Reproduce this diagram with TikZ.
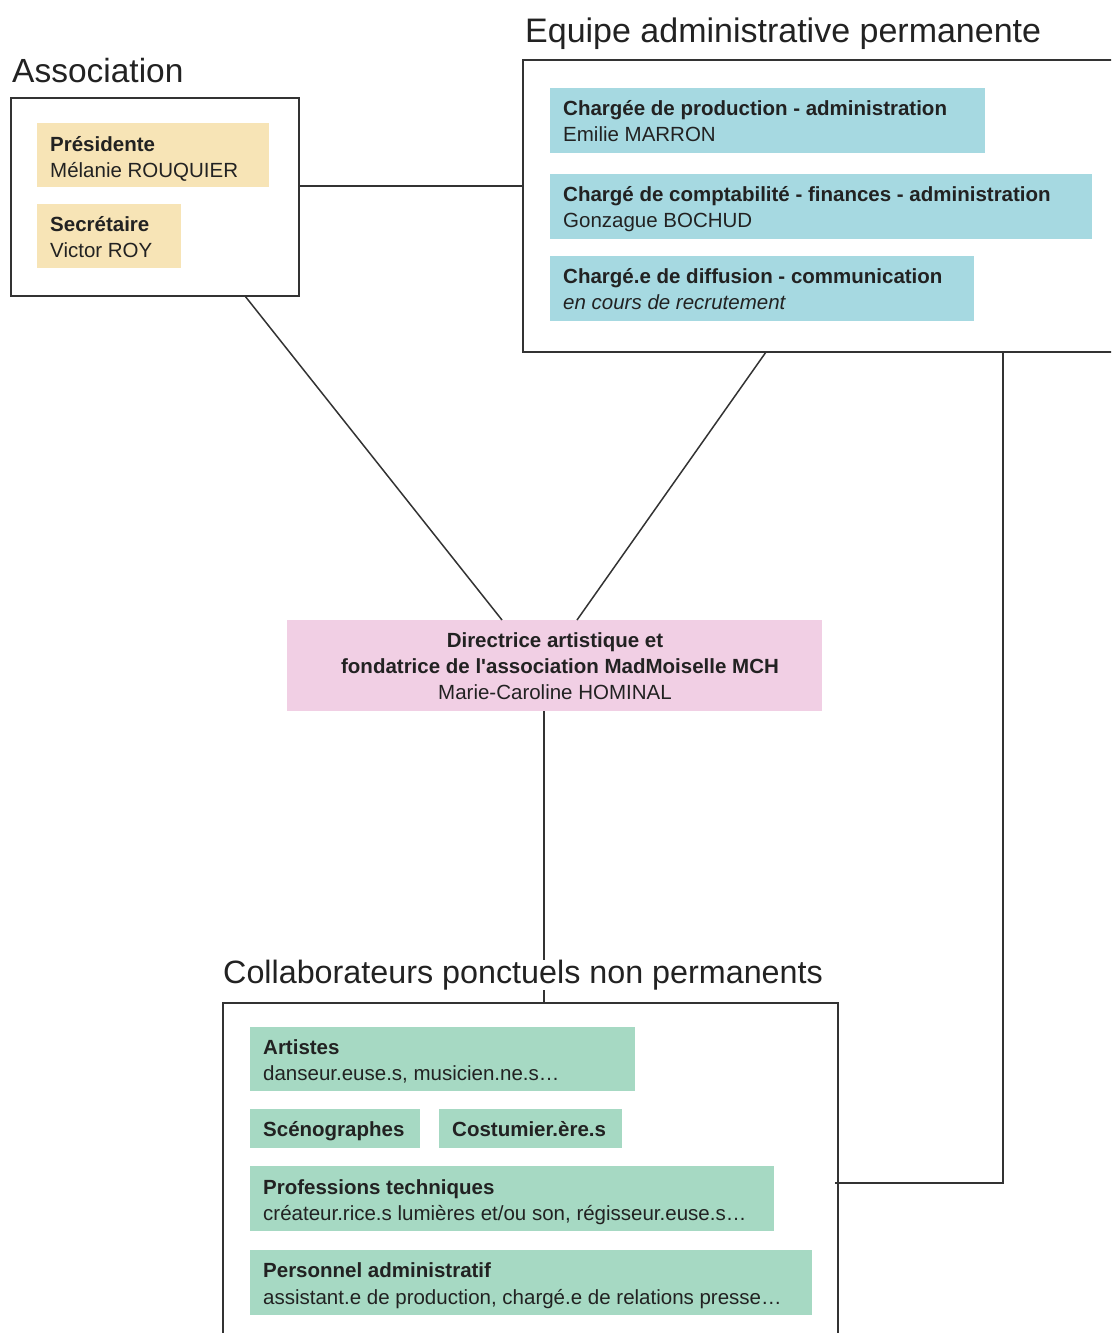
\documentclass[tikz,border=0pt]{standalone}
\usepackage{fontspec}
\setmainfont{Liberation Sans}
\usetikzlibrary{calc}
\definecolor{beige}{HTML}{F7E4B6}
\definecolor{bleu}{HTML}{A6D9E1}
\definecolor{rose}{HTML}{F1CFE4}
\definecolor{vert}{HTML}{A6D9C3}
\definecolor{trait}{HTML}{333333}
\definecolor{textc}{HTML}{222222}
\begin{document}
\begin{tikzpicture}[x=1pt,y=-1pt,
  frame/.style={draw=trait, line width=1.6pt, anchor=north west, inner sep=0pt, outer sep=0pt},
  card/.style={anchor=north west, inner sep=0pt, outer sep=0pt},
  txt/.style={anchor=base west, inner sep=0pt, font=\fontsize{20.5}{24}\selectfont, text=textc},
  btxt/.style={txt, font=\fontsize{20.5}{24}\selectfont\bfseries},
  ttl/.style={anchor=base west, inner sep=0pt, font=\fontsize{33.5}{40}\selectfont, text=textc},
  link/.style={draw=trait, line width=1.5pt}]
\useasboundingbox (0,0) rectangle (1111,1333);
\clip (0,0) rectangle (1111,1333);

% frames
\node[frame, minimum width=288pt, minimum height=198pt] (assoc) at (11,98) {};
\node[frame, minimum width=600pt, minimum height=292pt] (equipe) at (523,60) {};
\node[frame, minimum width=615pt, minimum height=360pt] (collab) at (223,1003) {};

% connectors
\draw[link] ($(assoc.north east)+(0,88)$) -- ($(equipe.north west)+(0,126)$);
\node[card, fill=rose, minimum width=535pt, minimum height=91pt] (dir) at (287,620) {};
\draw[link] ($(assoc.south west)+(234,0)$) -- ($(dir.north west)+(215,0)$);
\draw[link] ($(equipe.south west)+(243,0)$) -- ($(dir.north west)+(290,0)$);
\draw[link] ($(equipe.south west)+(480,0)$) |- ($(collab.north east)+(-3,180)$);
\draw[link] ($(dir.south west)+(257,0)$) -- ($(collab.north west)+(321,0)$);

% titles
\node[ttl] (tassoc) at (12,82) {Association};
\node[ttl, font=\fontsize{34}{40}\selectfont] (tequipe) at (525,42) {Equipe administrative permanente};
\node[ttl, font=\fontsize{32.3}{40}\selectfont, fill=white, inner ysep=0pt] (tcollab) at (223,983) {Collaborateurs ponctuels non permanents};

% association cards
\node[card, fill=beige, minimum width=232pt, minimum height=64pt] (pres) at (37,123) {};
\node[btxt] (pres1) at (50,151) {Présidente};
\node[txt] (pres2) at (50,177) {Mélanie ROUQUIER};
\node[card, fill=beige, minimum width=144pt, minimum height=64pt] (secr) at (37,204) {};
\node[btxt] (secr1) at (50,231) {Secrétaire};
\node[txt] (secr2) at (50,257) {Victor ROY};

% equipe cards
\node[card, fill=bleu, minimum width=435pt, minimum height=65pt] (e1) at (550,88) {};
\node[btxt] (e1a) at (563,115) {Chargée de production - administration};
\node[txt] (e1b) at (563,141) {Emilie MARRON};
\node[card, fill=bleu, minimum width=542pt, minimum height=65pt] (e2) at (550,174) {};
\node[btxt] (e2a) at (563,201) {Chargé de comptabilité - finances - administration};
\node[txt] (e2b) at (563,227) {Gonzague BOCHUD};
\node[card, fill=bleu, minimum width=424pt, minimum height=65pt] (e3) at (550,256) {};
\node[btxt] (e3a) at (563,283) {Chargé.e de diffusion - communication};
\node[txt, font=\fontsize{20.5}{24}\selectfont\itshape] (e3b) at (563,309) {en cours de recrutement};

% director text
\node[btxt, anchor=base] (d1) at (555,647) {Directrice artistique et};
\node[btxt, anchor=base] (d2) at (560,673) {fondatrice de l\textquotesingle association MadMoiselle MCH};
\node[txt, anchor=base] (d3) at (555,699) {Marie-Caroline HOMINAL};

% collab cards
\node[card, fill=vert, minimum width=385pt, minimum height=64pt] (c1) at (250,1027) {};
\node[btxt] (c1a) at (263,1054) {Artistes};
\node[txt] (c1b) at (263,1080) {danseur.euse.s, musicien.ne.s…};
\node[card, fill=vert, minimum width=170pt, minimum height=39pt] (c2) at (250,1109) {};
\node[btxt] (c2a) at (263,1136) {Scénographes};
\node[card, fill=vert, minimum width=183pt, minimum height=39pt] (c3) at (439,1109) {};
\node[btxt] (c3a) at (452,1136) {Costumier.ère.s};
\node[card, fill=vert, minimum width=524pt, minimum height=65pt] (c4) at (250,1166) {};
\node[btxt] (c4a) at (263,1194) {Professions techniques};
\node[txt] (c4b) at (263,1220) {créateur.rice.s lumières et/ou son, régisseur.euse.s…};
\node[card, fill=vert, minimum width=562pt, minimum height=65pt] (c5) at (250,1250) {};
\node[btxt] (c5a) at (263,1277) {Personnel administratif};
\node[txt] (c5b) at (263,1304) {assistant.e de production, chargé.e de relations presse…};
\end{tikzpicture}
\end{document}
